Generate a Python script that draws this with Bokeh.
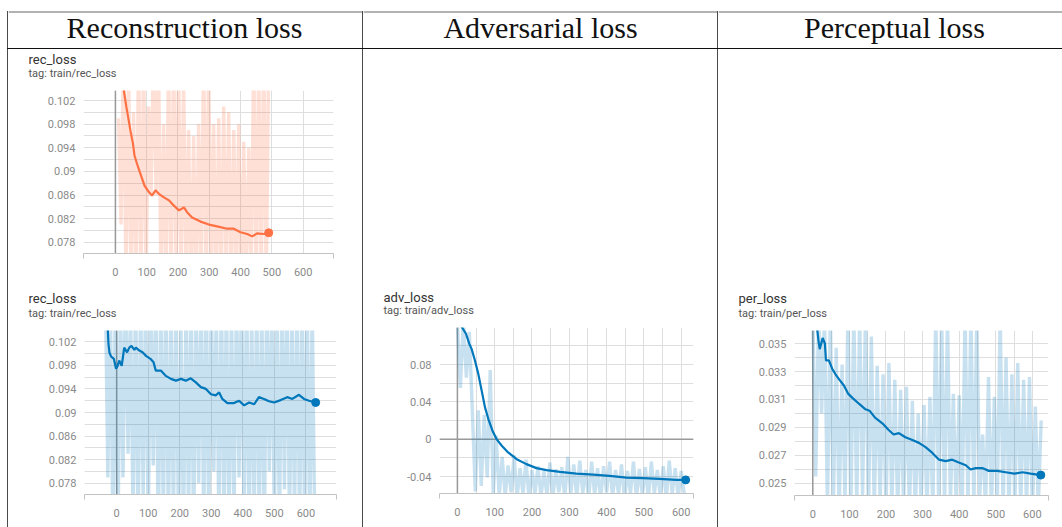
from bokeh.plotting import figure
from bokeh.models import Range1d, FixedTicker, Span, Label, Spacer
from bokeh.layouts import row, column
from bokeh.embed import file_html
from bokeh.resources import INLINE

# ---------------- data ----------------
header_titles = ["Reconstruction loss", "Adversarial loss", "Perceptual loss"]

x_ticks = [0, 100, 200, 300, 400, 500, 600]
x_grid_wide = [0, 100, 200, 300, 400, 500, 600]
x_grid_fine = [0, 50, 100, 150, 200, 250, 300, 350, 400, 450, 500, 550, 600]

rec_y_ticks = [0.078, 0.082, 0.086, 0.09, 0.094, 0.098, 0.102]
rec_y_labels = ["0.078", "0.082", "0.086", "0.09", "0.094", "0.098", "0.102"]
rec_y_grid = [0.078, 0.080, 0.082, 0.084, 0.086, 0.088, 0.090, 0.092,
              0.094, 0.096, 0.098, 0.100, 0.102]

adv_y_ticks = [-0.04, 0, 0.04, 0.08]
adv_y_labels = ["-0.04", "0", "0.04", "0.08"]
adv_y_grid = [-0.04, -0.02, 0, 0.02, 0.04, 0.06, 0.08, 0.10]

per_y_ticks = [0.025, 0.027, 0.029, 0.031, 0.033, 0.035]
per_y_labels = ["0.025", "0.027", "0.029", "0.031", "0.033", "0.035"]
per_y_grid = [0.025, 0.026, 0.027, 0.028, 0.029, 0.030, 0.031, 0.032,
              0.033, 0.034, 0.035]

# run 1: reconstruction loss (orange), raw values logged every 8 steps
rec1_raw_start = 10
rec1_raw = [0.099, 0.081, 0.112, 0.070, 0.109, 0.071, 0.100, 0.069, 0.111, 0.070,
            0.110, 0.072, 0.101, 0.086, 0.113, 0.086, 0.108, 0.070, 0.098, 0.071,
            0.110, 0.069, 0.112, 0.072, 0.109, 0.070, 0.106, 0.071, 0.097, 0.069,
            0.096, 0.070, 0.098, 0.072, 0.111, 0.070, 0.109, 0.071, 0.098, 0.069,
            0.099, 0.070, 0.101, 0.072, 0.100, 0.070, 0.097, 0.071, 0.098, 0.069,
            0.095, 0.070, 0.094, 0.072, 0.111, 0.070, 0.109, 0.071, 0.112, 0.070,
            0.110]
rec1_steps = [20, 27, 35, 39, 48, 56, 61, 69, 80, 93, 107, 117, 128, 139, 155, 171,
              187, 203, 219, 229, 245, 272, 299, 325, 357, 378, 400, 421, 437, 453,
              474, 490]
rec1_smooth = [0.1075, 0.1037, 0.1009, 0.0997, 0.0969, 0.0947, 0.0927, 0.0913,
               0.0896, 0.0876, 0.0865, 0.0859, 0.0868, 0.0862, 0.0856, 0.0851,
               0.0842, 0.0834, 0.0839, 0.0831, 0.0822, 0.0815, 0.0810, 0.0807,
               0.0803, 0.0803, 0.0797, 0.0794, 0.0790, 0.0795, 0.0794, 0.0796]

# run 2: reconstruction loss (blue)
rec2_raw_start = -36
rec2_raw = [0.112, 0.079, 0.109, 0.070, 0.111, 0.068, 0.110, 0.079, 0.113, 0.083,
            0.108, 0.071, 0.112, 0.069, 0.110, 0.076, 0.111, 0.070, 0.109, 0.081,
            0.112, 0.068, 0.110, 0.071, 0.113, 0.069, 0.108, 0.072, 0.111, 0.070,
            0.104, 0.069, 0.110, 0.071, 0.112, 0.068, 0.109, 0.078, 0.111, 0.070,
            0.113, 0.069, 0.110, 0.080, 0.108, 0.071, 0.112, 0.070, 0.111, 0.068,
            0.109, 0.072, 0.110, 0.079, 0.112, 0.070, 0.113, 0.069, 0.108, 0.071,
            0.111, 0.070, 0.110, 0.068, 0.112, 0.080, 0.109, 0.071, 0.111, 0.069,
            0.110, 0.077, 0.113, 0.070, 0.108, 0.072, 0.112, 0.069, 0.110, 0.071,
            0.111, 0.068, 0.109, 0.070]
rec2_steps = [-30, -28, -26, -23, -18, -9, -2, 3, 8, 16, 24, 33, 40, 47, 56, 61, 72,
              82, 93, 107, 117, 124, 140, 156, 172, 188, 204, 219, 235, 251, 267, 283,
              299, 314, 325, 335, 351, 372, 388, 404, 420, 436, 451, 467, 483, 499,
              520, 541, 557, 578, 594, 610, 631]
rec2_smooth = [0.1060, 0.1039, 0.1016, 0.1002, 0.0995, 0.0991, 0.0974, 0.0979,
               0.0988, 0.0979, 0.1010, 0.1002, 0.1010, 0.1013, 0.1006, 0.1010,
               0.1005, 0.1002, 0.0996, 0.0991, 0.0985, 0.0971, 0.0971, 0.0962,
               0.0957, 0.0954, 0.0957, 0.0954, 0.0958, 0.0951, 0.0943, 0.0940,
               0.0931, 0.0929, 0.0934, 0.0923, 0.0916, 0.0916, 0.0920, 0.0912,
               0.0917, 0.0914, 0.0926, 0.0923, 0.0919, 0.0917, 0.0921, 0.0926,
               0.0923, 0.0930, 0.0923, 0.0920, 0.0917]

# adversarial loss
adv_raw_start = 0
adv_raw = [0.125, 0.055, 0.128, 0.066, 0.115, 0.030, -0.056, 0.031, -0.050, 0.026,
           -0.041, 0.074, -0.060, 0.004, -0.062, -0.019, -0.061, -0.028, -0.057, -0.017,
           -0.063, -0.031, -0.059, -0.022, -0.064, -0.033, -0.058, -0.029, -0.062, -0.034,
           -0.060, -0.025, -0.063, -0.032, -0.057, -0.030, -0.064, -0.019, -0.059, -0.027,
           -0.062, -0.023, -0.058, -0.033, -0.063, -0.024, -0.060, -0.031, -0.064, -0.029,
           -0.057, -0.024, -0.062, -0.033, -0.059, -0.027, -0.064, -0.034, -0.058, -0.024,
           -0.062, -0.032, -0.060, -0.030, -0.063, -0.024, -0.058, -0.033, -0.061, -0.029,
           -0.064, -0.023, -0.059, -0.031, -0.062, -0.034, -0.058]
adv_steps = [5, 12, 23, 32, 38, 47, 56, 65, 74, 83, 94, 105, 119, 136, 159, 185, 212,
             239, 275, 319, 364, 408, 453, 497, 542, 587, 612]
adv_smooth = [0.1300, 0.1201, 0.1130, 0.1022, 0.0968, 0.0843, 0.0700, 0.0521, 0.0341,
              0.0216, 0.0091, 0.0001, -0.0070, -0.0142, -0.0214, -0.0267, -0.0310,
              -0.0332, -0.0350, -0.0368, -0.0379, -0.0393, -0.0411, -0.0418, -0.0425,
              -0.0436, -0.0436]

# perceptual loss
per_raw_start = 0
per_raw = [0.0372, 0.0255, 0.0374, 0.0300, 0.0371, 0.0232, 0.0373, 0.0230, 0.0347, 0.0228,
           0.0335, 0.0235, 0.0372, 0.0229, 0.0375, 0.0231, 0.0371, 0.0240, 0.0373, 0.0228,
           0.0355, 0.0230, 0.0334, 0.0236, 0.0328, 0.0229, 0.0336, 0.0232, 0.0324, 0.0228,
           0.0317, 0.0233, 0.0319, 0.0230, 0.0309, 0.0229, 0.0300, 0.0236, 0.0306, 0.0230,
           0.0312, 0.0228, 0.0374, 0.0231, 0.0372, 0.0229, 0.0371, 0.0234, 0.0314, 0.0230,
           0.0313, 0.0228, 0.0373, 0.0232, 0.0375, 0.0229, 0.0372, 0.0240, 0.0285, 0.0231,
           0.0326, 0.0229, 0.0312, 0.0233, 0.0371, 0.0230, 0.0340, 0.0228, 0.0328, 0.0232,
           0.0336, 0.0229, 0.0324, 0.0231, 0.0326, 0.0228, 0.0305, 0.0233, 0.0295]
per_steps = [10, 16, 19, 24, 27, 33, 36, 44, 53, 62, 73, 85, 97, 109, 126, 144, 155,
             170, 190, 208, 221, 235, 253, 272, 290, 308, 326, 345, 363, 381, 399, 418,
             431, 445, 463, 481, 504, 527, 550, 573, 595, 623]
per_smooth = [0.0365, 0.0351, 0.0346, 0.0351, 0.0354, 0.0350, 0.0338, 0.0338, 0.0332,
              0.0328, 0.0324, 0.0320, 0.0314, 0.0311, 0.0307, 0.0303, 0.0302, 0.0297,
              0.0293, 0.0288, 0.0285, 0.0286, 0.0283, 0.0281, 0.0279, 0.0276, 0.0272,
              0.0267, 0.0266, 0.0267, 0.0265, 0.0263, 0.0260, 0.0261, 0.0261, 0.0259,
              0.0259, 0.0258, 0.0257, 0.0258, 0.0257, 0.0256]

RAW_STRIDE = 8

# ---------------- styling ----------------
ORANGE = "#ff7043"
BLUE = "#0077bb"
TABLE_LINE = "#4a4a4a"
GRID = "#dedede"
AXIS = "#c2c2c2"
ZERO = "#999999"
TICK_TEXT = "#8a8a8a"
UI_FONT = "Roboto"
HEADER_FONT = "Liberation Serif"
HEADER_SIZE = 30
TITLE_SIZE = 13
TAG_SIZE = 11
# distance from a text's baseline up to the centre of its text box, in em
MID_OFFSET = 0.34


def steps_for(start, values):
    return list(range(start, start + RAW_STRIDE * len(values), RAW_STRIDE))


def no_frame_align(p):
    # keep every figure's frame where its own borders put it
    if "frame_align" in p.properties():
        p.frame_align = False
    return p


def pixel_figure(width, height):
    """A bare figure whose data units are pixels (origin bottom-left)."""
    p = figure(width=width, height=height, x_range=(0, width), y_range=(0, height),
               toolbar_location=None, output_backend="svg", min_border=0,
               x_axis_location=None, y_axis_location=None)
    p.outline_line_color = None
    p.grid.visible = False
    p.background_fill_color = "white"
    p.border_fill_color = "white"
    return no_frame_align(p)


def text_at(p, height, x, baseline_from_top, text, font, size, color, align="left"):
    y = height - (baseline_from_top - MID_OFFSET * size)
    p.add_layout(Label(x=x, y=y, text=text, text_align=align, text_baseline="middle",
                       text_font=font, text_font_size=f"{size}px", text_color=color))


def header_cell(text, width, center_x):
    h = 48
    p = pixel_figure(width, h)
    # top rule of the table
    p.add_layout(Span(location=h - 11.5, dimension="width", line_color="#666666",
                      line_width=1))
    text_at(p, h, center_x, 36.7, text, HEADER_FONT, HEADER_SIZE, "#111111",
            align="center")
    return p


def title_strip(width, height, title, tag, title_base, tag_base):
    p = pixel_figure(width, height)
    text_at(p, height, 20, title_base, title, UI_FONT, TITLE_SIZE, "#333333")
    text_at(p, height, 20, tag_base, tag, UI_FONT, TAG_SIZE, "#555555")
    return p


def chart(w, h, borders, xr, yr, y_ticks, y_labels, y_grid, x_grid,
          raw_x, raw_y, sm_x, sm_y, color, title, tag, title_base, tag_base,
          zero_h=False):
    left, right, top, bottom = borders
    strip_h = top - 8
    p = figure(width=w, height=h - strip_h, x_range=Range1d(*xr), y_range=Range1d(*yr),
               toolbar_location=None, output_backend="svg",
               min_border_left=left, min_border_right=right,
               min_border_top=8, min_border_bottom=bottom)
    no_frame_align(p)
    p.outline_line_color = None
    p.background_fill_color = "white"
    p.border_fill_color = "white"

    p.xaxis.ticker = FixedTicker(ticks=x_ticks, minor_ticks=[xr[0] + 0.5, xr[1] - 0.5])
    p.xgrid.ticker = FixedTicker(ticks=x_grid)
    p.yaxis.ticker = FixedTicker(ticks=y_ticks)
    p.ygrid.ticker = FixedTicker(ticks=y_grid)
    p.yaxis.major_label_overrides = dict(zip(y_ticks, y_labels))

    p.grid.grid_line_color = GRID
    p.grid.grid_line_width = 1

    p.yaxis.axis_line_color = None
    p.yaxis.major_tick_line_color = None
    p.yaxis.minor_tick_line_color = None
    p.yaxis.major_tick_out = 0
    p.yaxis.major_tick_in = 0
    p.yaxis.major_label_standoff = 8

    p.xaxis.axis_line_color = AXIS
    p.xaxis.major_tick_line_color = None
    p.xaxis.major_tick_out = 0
    p.xaxis.major_tick_in = 0
    p.xaxis.minor_tick_line_color = AXIS
    p.xaxis.minor_tick_out = 5
    p.xaxis.minor_tick_in = 0
    p.xaxis.major_label_standoff = 9

    for ax in (p.xaxis, p.yaxis):
        ax.major_label_text_font = UI_FONT
        ax.major_label_text_font_size = "11px"
        ax.major_label_text_color = TICK_TEXT

    p.add_layout(Span(location=0, dimension="height", line_color=ZERO,
                      line_width=1.5, level="underlay"))
    if zero_h:
        p.add_layout(Span(location=0, dimension="width", line_color=ZERO,
                          line_width=1.5, level="underlay"))

    # raw (unsmoothed) values, then the smoothed curve with its last point
    p.line(raw_x, raw_y, line_color=color, line_alpha=0.22, line_width=3.4)
    p.line(sm_x, sm_y, line_color=color, line_width=2.2)
    p.scatter([sm_x[-1]], [sm_y[-1]], size=8, color=color)

    strip = title_strip(w, strip_h, title, tag, title_base, tag_base)
    return column(strip, p)


def vline(h):
    return Spacer(width=1, height=h, styles={"background-color": TABLE_LINE})


def hline(w, color):
    return Spacer(width=w, height=1, styles={"background-color": color})


def header_divider():
    return column(Spacer(width=1, height=11), vline(37))


rec_xr = (-102, 697)

chart_rec1 = chart(354, 234, (75, 29, 41, 30), rec_xr, (0.0761, 0.1037),
                   rec_y_ticks, rec_y_labels, rec_y_grid, x_grid_wide,
                   steps_for(rec1_raw_start, rec1_raw), rec1_raw,
                   rec1_steps, rec1_smooth, ORANGE,
                   "rec_loss", "tag: train/rec_loss", 14.5, 27.5)

chart_rec2 = chart(354, 244, (76, 26, 47, 33), rec_xr, (0.0761, 0.1039),
                   rec_y_ticks, rec_y_labels, rec_y_grid, x_grid_wide,
                   steps_for(rec2_raw_start, rec2_raw), rec2_raw,
                   rec2_steps, rec2_smooth, BLUE,
                   "rec_loss", "tag: train/rec_loss", 19.7, 33.7)

chart_adv = chart(354, 244, (76, 24, 44, 34), (-48, 633), (-0.0582, 0.1197),
                  adv_y_ticks, adv_y_labels, adv_y_grid, x_grid_fine,
                  steps_for(adv_raw_start, adv_raw), adv_raw,
                  adv_steps, adv_smooth, BLUE,
                  "adv_loss", "tag: train/adv_loss", 18.5, 31.0, zero_h=True)

chart_per = chart(344, 244, (76, 14, 47, 32), (-50, 644), (0.02414, 0.03593),
                  per_y_ticks, per_y_labels, per_y_grid, x_grid_fine,
                  steps_for(per_raw_start, per_raw), per_raw,
                  per_steps, per_smooth, BLUE,
                  "per_loss", "tag: train/per_loss", 19.7, 33.7)

header = row(Spacer(width=7, height=48), header_divider(),
             header_cell(header_titles[0], 354, 176), header_divider(),
             header_cell(header_titles[1], 354, 177), header_divider(),
             header_cell(header_titles[2], 344, 176))

body = row(Spacer(width=7, height=478), vline(478),
           column(chart_rec1, chart_rec2), vline(478),
           column(Spacer(width=354, height=234), chart_adv), vline(478),
           column(Spacer(width=344, height=234), chart_per))

page = column(header,
              row(Spacer(width=7, height=1), hline(1055, "#111111")),
              body)

open("out.html", "w").write(file_html(page, INLINE))
